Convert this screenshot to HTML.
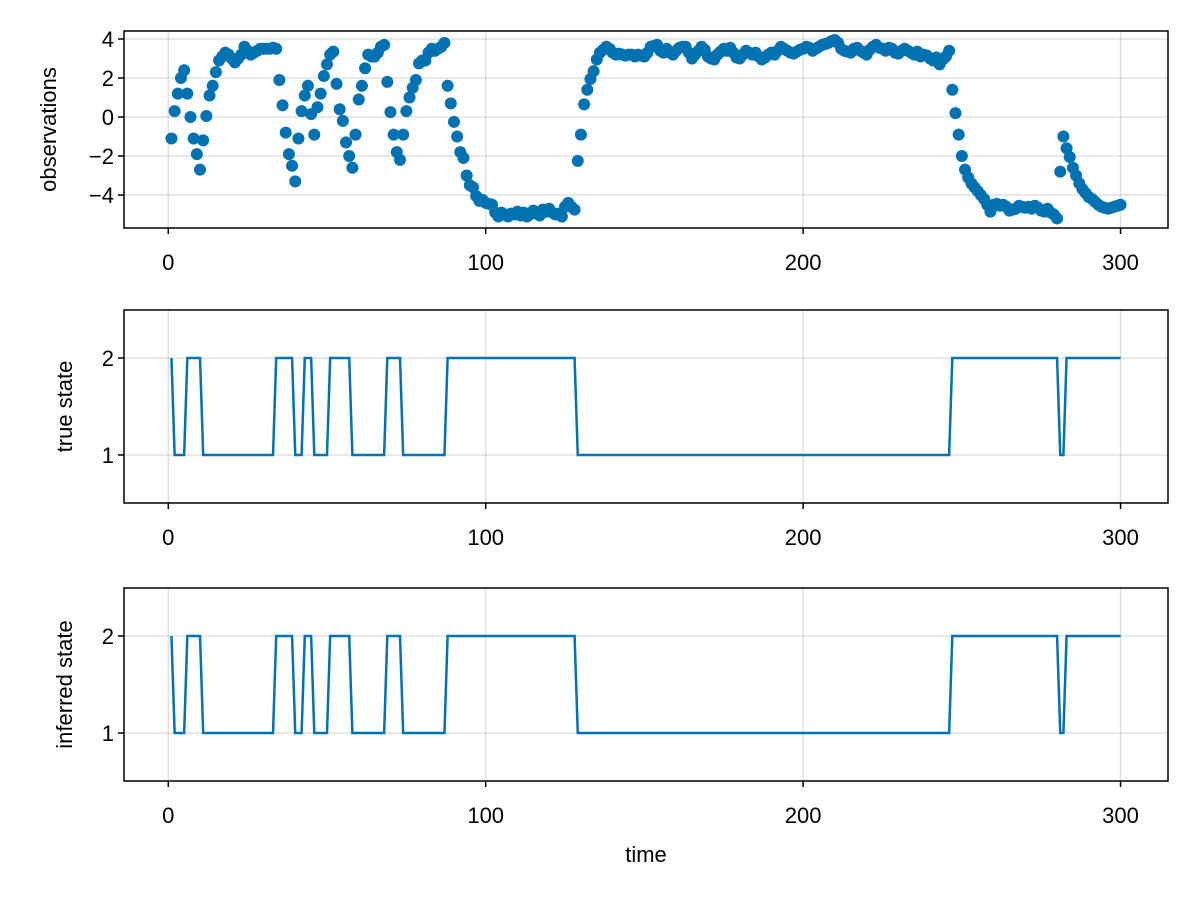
<!DOCTYPE html>
<html><head><meta charset="utf-8"><style>
body{margin:0;background:#fff;}
svg text{font-family:"Liberation Sans","DejaVu Sans",sans-serif;fill:#000;}
</style></head><body>
<svg id="chart" width="1200" height="900" xmlns="http://www.w3.org/2000/svg"></svg>
<script>
const obsValues = [
-1.1,0.3,1.2,2.0,2.4,1.2,0.0,-1.1,-1.9,-2.7,-1.2,0.05,1.1,1.6,2.3,2.9,3.1,3.3,3.2,3.0,2.8,3.0,3.2,3.6,3.4,3.2,3.3,3.4,3.5,3.5,3.5,
3.5,3.55,3.5,
1.9,0.6,-0.8,-1.9,-2.5,-3.3,-1.1,0.3,1.1,1.6,0.15,-0.9,0.5,1.2,2.1,2.7,3.2,3.35,1.7,0.4,-0.2,-1.3,-2.0,-2.6,-0.9,0.9,1.6,2.5,3.2,3.1,3.1,3.3,3.6,3.7,
1.8,0.25,-0.9,-1.8,-2.2,-0.9,0.3,1.0,1.5,1.9,2.75,2.9,2.9,3.3,3.5,3.4,3.5,3.6,3.8,1.6,0.7,-0.25,-1.0,-1.8,-2.1,-3.0,-3.5,-3.6,-4.05,-4.3,-4.25,-4.4,-4.45,-4.5,-4.9,-5.1,-4.9,
-5.0,-5.1,-4.95,-5.0,-4.85,-5.05,-4.9,-5.1,-5.0,-4.8,-4.9,-5.05,-4.75,-4.85,-4.7,-4.9,-5.0,-4.95,-5.1,
-4.6,-4.4,-4.6,-4.75,
-2.25,-0.9,0.65,1.4,1.95,2.35,2.95,3.3,3.45,
3.6,3.5,3.3,3.2,3.25,3.2,3.15,3.2,3.2,3.1,
3.2,3.15,3.1,3.3,3.6,3.65,3.7,3.4,3.3,3.5,
3.3,3.2,3.4,3.55,3.6,3.6,3.3,3.0,3.2,3.4,
3.6,3.45,3.1,3.0,2.95,3.2,3.35,3.5,3.4,3.55,
3.3,3.05,3.0,3.2,3.4,3.3,3.2,3.3,3.1,2.95,
3.05,3.2,3.3,3.2,3.4,3.6,3.5,3.4,3.3,3.25,
3.35,3.45,3.5,3.6,3.55,3.4,3.5,3.6,3.7,3.75,
3.8,3.9,3.95,3.8,3.5,3.4,3.35,3.3,3.5,3.55,
3.4,3.3,3.2,3.45,3.6,3.7,3.55,3.5,3.4,3.55,
3.5,3.3,3.25,3.4,3.5,3.4,3.3,3.2,3.35,3.1,
3.2,3.15,3.0,2.9,3.05,2.7,2.95,3.1,3.4,
1.4,0.2,-0.9,-2.0,-2.7,-3.1,-3.4,
-3.6,-3.8,-4.0,-4.2,-4.5,-4.85,
-4.5,-4.45,-4.55,-4.5,-4.6,-4.8,-4.75,-4.7,-4.55,-4.6,-4.65,-4.6,-4.7,-4.55,-4.65,-4.8,-4.85,-4.7,-4.9,-5.0,-5.2,
-2.8,-1.0,-1.6,-2.05,-2.6,-3.0,-3.4,-3.7,-3.9,-4.1,-4.2,-4.35,-4.5,-4.6,-4.65,-4.7,-4.65,-4.6,-4.55,-4.5
];
// state runs: [state, length]
const trueStateRuns = [[2,1],[1,4],[2,5],[1,23],[2,6],[1,3],[2,3],[1,5],[2,7],[1,11],[2,5],[1,14],[2,41],[1,118],[2,34],[1,2],[2,18]];
const inferredStateRuns = [[2,1],[1,4],[2,5],[1,23],[2,6],[1,3],[2,3],[1,5],[2,7],[1,11],[2,5],[1,14],[2,41],[1,118],[2,34],[1,2],[2,18]];
const xTicks = [0,100,200,300];
const obsTicks = [4,2,0,-2,-4];
const stateTicks = [2,1];

const svg = document.getElementById('chart');
const NS = 'http://www.w3.org/2000/svg';
const BLUE = '#0072b2';
function mk(tag, attrs, parent){const e=document.createElementNS(NS,tag);for(const k in attrs)e.setAttribute(k,attrs[k]);(parent||svg).appendChild(e);return e;}
function expand(runs){const a=[];runs.forEach(r=>{for(let i=0;i<r[1];i++)a.push(r[0]);});return a;}

const L=124,R=1168,xmin=-13.95,xmax=314.95;
const xs = v => L + (v - xmin)/(xmax-xmin)*(R-L);

function panel(name, top, bot, ymin, ymax, yticks, ylabel, ylabelX){
  const g = mk('g',{});
  
  
  const ys = v => bot - (v - ymin)/(ymax-ymin)*(bot-top);
  xTicks.forEach(t=>{
    const l=mk('line',{x1:xs(t),x2:xs(t),y1:top,y2:bot,stroke:'#000','stroke-opacity':0.12,'stroke-width':1.5},g);
    
    
  });
  yticks.forEach(t=>{
    const l=mk('line',{x1:L,x2:R,y1:ys(t),y2:ys(t),stroke:'#000','stroke-opacity':0.12,'stroke-width':1.5},g);
    
    
  });
  const f=mk('rect',{x:L,y:top,width:R-L,height:bot-top,fill:'none',stroke:'#000','stroke-width':1.5},g);
  
  
  xTicks.forEach(t=>{
    mk('line',{x1:xs(t),x2:xs(t),y1:bot,y2:bot+6,stroke:'#000','stroke-width':1.5},g);
    const tx=mk('text',{x:xs(t),y:bot+42,'text-anchor':'middle','font-size':22},g);
    tx.textContent=t;
    
    
  });
  yticks.forEach(t=>{
    mk('line',{x1:L-6,x2:L,y1:ys(t),y2:ys(t),stroke:'#000','stroke-width':1.5},g);
    const tx=mk('text',{x:L-10,y:ys(t)+8,'text-anchor':'end','font-size':22},g);
    tx.textContent=String(t).replace('-','\u2212');
    
    
  });
  const yl=mk('text',{x:ylabelX,y:(top+bot)/2,'text-anchor':'middle','font-size':22,transform:`rotate(-90 ${ylabelX} ${(top+bot)/2})`},g);
  yl.textContent=ylabel;
  
  
  return {g,ys};
}

const p1 = panel('observations-panel',31,228,-5.69,4.41,obsTicks,'observations',56);
obsValues.forEach((v,i)=>{
  const c=mk('circle',{cx:xs(i+1),cy:p1.ys(v),r:6,fill:BLUE},p1.g);
  
  
});

function statePanel(name, top, bot, runs, label){
  const p = panel(name, top, bot, 0.505, 2.495, stateTicks, label, 72);
  const s = expand(runs);
  const d = s.map((v,i)=>(i?'L':'M')+xs(i+1).toFixed(2)+','+p.ys(v).toFixed(2)).join('');
  const path = mk('path',{d,fill:'none',stroke:BLUE,'stroke-width':2.5,'stroke-linejoin':'miter'},p.g);
  
  
}
statePanel('true-state-panel',310,503,trueStateRuns,'true state');
statePanel('inferred-state-panel',588,781,inferredStateRuns,'inferred state');

const xt=mk('text',{x:646,y:862,'text-anchor':'middle','font-size':22});
xt.textContent='time';


</script>
</body></html>
